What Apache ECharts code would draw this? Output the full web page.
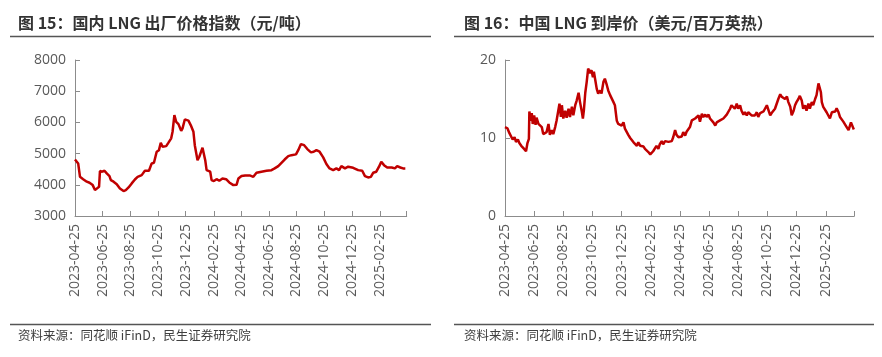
<!DOCTYPE html>
<html>
<head>
<meta charset="utf-8">
<script src="https://cdn.jsdelivr.net/npm/echarts@6/dist/echarts.min.js"></script>
<style>
html,body{margin:0;padding:0;background:#fff;}
#chart{width:882px;height:357px;}
</style>
</head>
<body>
<div id="chart"></div>
<script>
// ---------- data ----------
const leftTitle = '图 15：国内 LNG 出厂价格指数（元/吨）';
const rightTitle = '图 16：中国 LNG 到岸价（美元/百万英热）';
const sourceText = '资料来源：同花顺 iFinD，民生证券研究院';

const tickDates = ['2023-04-25','2023-06-25','2023-08-25','2023-10-25','2023-12-25','2024-02-25','2024-04-25','2024-06-25','2024-08-25','2024-10-25','2024-12-25','2025-02-25','2025-04-25'];

const indexDates = ['2023-04-25','2023-05-02','2023-05-06','2023-05-13','2023-05-21','2023-05-27','2023-05-30','2023-06-03','2023-06-08','2023-06-12','2023-06-17','2023-06-19','2023-06-24','2023-06-29','2023-07-04','2023-07-10','2023-07-13','2023-07-19','2023-07-26','2023-08-02','2023-08-10','2023-08-15','2023-08-21','2023-08-28','2023-09-04','2023-09-10','2023-09-19','2023-09-26','2023-10-05','2023-10-11','2023-10-16','2023-10-22','2023-10-27','2023-10-31','2023-11-04','2023-11-12','2023-11-17','2023-11-23','2023-11-26','2023-11-30','2023-12-04','2023-12-09','2023-12-15','2023-12-18','2023-12-23','2023-12-31','2024-01-05','2024-01-11','2024-01-14','2024-01-20','2024-01-24','2024-01-31','2024-02-06','2024-02-09','2024-02-17','2024-02-20','2024-02-25','2024-03-02','2024-03-08','2024-03-15','2024-03-23','2024-03-30','2024-04-08','2024-04-15','2024-04-19','2024-04-26','2024-05-04','2024-05-14','2024-05-22','2024-05-29','2024-06-09','2024-06-20','2024-07-01','2024-07-08','2024-07-16','2024-07-23','2024-07-30','2024-08-07','2024-08-14','2024-08-24','2024-08-29','2024-09-04','2024-09-11','2024-09-18','2024-09-26','2024-10-02','2024-10-08','2024-10-15','2024-10-23','2024-10-30','2024-11-06','2024-11-14','2024-11-21','2024-11-27','2024-12-02','2024-12-10','2024-12-17','2024-12-28','2025-01-08','2025-01-17','2025-01-23','2025-01-30','2025-02-05','2025-02-10','2025-02-17','2025-02-23','2025-02-28','2025-03-06','2025-03-13','2025-03-23','2025-03-30','2025-04-04','2025-04-11','2025-04-17','2025-04-22'];
const indexValues = [4810,4685,4255,4180,4100,4065,4100,3990,3830,3880,3935,4440,4420,4450,4365,4280,4150,4100,4020,3880,3800,3830,3915,4045,4170,4255,4310,4450,4450,4685,4705,5060,5110,5350,5220,5240,5350,5490,5700,6235,6020,5945,5730,5810,6095,6055,5915,5700,5270,4790,4900,5190,4790,4470,4420,4150,4120,4180,4130,4200,4180,4075,3990,4000,4200,4280,4300,4300,4255,4385,4420,4450,4470,4525,4600,4705,4810,4920,4950,4975,5110,5305,5270,5145,5040,5060,5110,5060,4880,4665,4525,4470,4525,4470,4600,4525,4580,4545,4470,4450,4280,4235,4255,4385,4420,4580,4740,4630,4555,4555,4525,4600,4555,4525,4525];

const cifDates = ['2023-04-25','2023-04-30','2023-05-04','2023-05-08','2023-05-11','2023-05-15','2023-05-18','2023-05-22','2023-05-25','2023-05-29','2023-06-01','2023-06-04','2023-06-08','2023-06-11','2023-06-14','2023-06-15','2023-06-18','2023-06-20','2023-06-22','2023-06-25','2023-06-28','2023-06-30','2023-07-04','2023-07-07','2023-07-11','2023-07-14','2023-07-18','2023-07-21','2023-07-25','2023-07-28','2023-08-01','2023-08-04','2023-08-08','2023-08-11','2023-08-15','2023-08-17','2023-08-20','2023-08-22','2023-08-25','2023-08-29','2023-09-01','2023-09-05','2023-09-08','2023-09-12','2023-09-15','2023-09-19','2023-09-22','2023-09-26','2023-09-29','2023-10-03','2023-10-05','2023-10-07','2023-10-10','2023-10-13','2023-10-16','2023-10-20','2023-10-23','2023-10-26','2023-10-28','2023-10-31','2023-11-03','2023-11-06','2023-11-10','2023-11-13','2023-11-17','2023-11-20','2023-11-24','2023-11-27','2023-12-01','2023-12-04','2023-12-08','2023-12-11','2023-12-15','2023-12-18','2023-12-22','2023-12-25','2023-12-29','2024-01-01','2024-01-05','2024-01-08','2024-01-12','2024-01-15','2024-01-19','2024-01-22','2024-01-26','2024-01-29','2024-02-02','2024-02-05','2024-02-09','2024-02-12','2024-02-16','2024-02-19','2024-02-23','2024-02-26','2024-02-29','2024-03-04','2024-03-07','2024-03-11','2024-03-14','2024-03-18','2024-03-21','2024-03-25','2024-03-28','2024-04-01','2024-04-04','2024-04-08','2024-04-11','2024-04-15','2024-04-18','2024-04-22','2024-04-25','2024-04-29','2024-05-02','2024-05-06','2024-05-09','2024-05-13','2024-05-16','2024-05-20','2024-05-23','2024-05-27','2024-05-30','2024-06-03','2024-06-06','2024-06-10','2024-06-13','2024-06-17','2024-06-20','2024-06-24','2024-06-27','2024-07-01','2024-07-04','2024-07-08','2024-07-11','2024-07-15','2024-07-18','2024-07-22','2024-07-25','2024-07-28','2024-08-01','2024-08-04','2024-08-08','2024-08-11','2024-08-15','2024-08-18','2024-08-22','2024-08-25','2024-08-29','2024-09-01','2024-09-05','2024-09-08','2024-09-12','2024-09-15','2024-09-19','2024-09-22','2024-09-26','2024-09-29','2024-10-03','2024-10-06','2024-10-10','2024-10-13','2024-10-17','2024-10-20','2024-10-24','2024-10-27','2024-10-31','2024-11-03','2024-11-07','2024-11-10','2024-11-14','2024-11-17','2024-11-21','2024-11-24','2024-11-28','2024-12-01','2024-12-05','2024-12-08','2024-12-12','2024-12-15','2024-12-19','2024-12-22','2024-12-25','2024-12-29','2025-01-01','2025-01-05','2025-01-08','2025-01-12','2025-01-15','2025-01-19','2025-01-22','2025-01-26','2025-01-29','2025-02-02','2025-02-05','2025-02-09','2025-02-11','2025-02-14','2025-02-16','2025-02-19','2025-02-23','2025-02-26','2025-03-02','2025-03-05','2025-03-09','2025-03-12','2025-03-16','2025-03-19','2025-03-23','2025-03-26','2025-03-30','2025-04-02','2025-04-06','2025-04-09','2025-04-13','2025-04-16','2025-04-18','2025-04-21','2025-04-24'];
const cifValues = [11.4,11.25,10.65,10.4,9.8,10.1,9.5,9.8,9.35,9.0,9.1,8.6,8.3,9.35,9.9,13.4,12.2,13.2,11.8,12.9,11.7,12.6,11.8,12.0,11.4,10.5,10.4,10.75,11.8,10.4,11.0,10.5,11.4,12.25,12.5,14.4,12.7,14.2,12.5,13.5,12.6,13.75,12.7,14.0,12.9,14.2,14.8,15.8,14.6,13.3,12.5,13.5,15.8,17.2,18.9,18.3,18.7,17.8,18.5,17.4,16.3,15.7,16.1,15.7,17.2,17.6,16.8,16.1,15.5,15.3,14.6,14.2,12.2,11.8,12.0,11.6,12.0,11.2,11.0,10.4,10.0,10.1,9.45,9.35,9.0,9.45,9.0,9.2,8.9,8.6,8.5,8.2,7.9,8.0,8.3,8.2,9.0,8.6,9.2,9.6,9.2,9.6,9.35,9.5,9.45,9.6,10.1,11.0,10.4,10.1,10.1,10.2,10.75,10.3,10.8,10.65,11.4,12.25,12.0,12.5,12.25,12.9,12.1,13.1,12.7,13.0,12.7,13.0,12.5,12.25,12.0,11.6,12.0,11.8,12.25,12.0,12.5,12.7,13.0,12.9,13.75,14.2,14.4,13.75,14.4,13.75,14.2,13.5,13.0,13.3,12.9,13.3,13.5,12.9,13.1,12.9,13.3,12.7,13.2,13.1,13.4,13.5,14.2,14.0,12.9,13.2,13.3,13.75,14.0,15.0,15.6,15.3,15.5,15.0,15.3,14.6,14.0,12.9,13.5,14.2,14.6,15.0,15.4,14.8,13.75,14.2,13.5,14.4,13.75,14.6,14.2,15.0,15.5,17.0,17.2,15.9,14.6,14.0,14.2,13.3,13.5,12.5,13.3,13.1,13.4,13.8,13.3,12.7,12.5,12.1,12.25,11.4,11.0,11.2,12.0,12.1,11.1];

// ---------- helpers ----------
function ts(s){ const p = s.split('-').map(Number); return Date.UTC(p[0], p[1]-1, p[2]); }
function pairs(d, v){ return d.map((x,i)=>[ts(x), v[i]]); }
function fmt(t){ const d = new Date(t); const m = d.getUTCMonth()+1, dd = d.getUTCDate();
  return d.getUTCFullYear() + '-' + (m<10?'0':'') + m + '-' + (dd<10?'0':'') + dd; }

const tickVals = tickDates.map(ts);
const labelVals = tickDates.slice(0, -1).map(ts);

const axisColor = '#8c8c8c';
const labelColor = '#595959';
const numFont = '"Open Sans", "Noto Sans", sans-serif';
const cjkFont = '"Noto Sans CJK SC", sans-serif';

function xAxisFor(gi){
  return {
    type: 'value', gridIndex: gi,
    min: tickVals[0], max: tickVals[tickVals.length-1],
    axisLine: { show: true, lineStyle: { color: axisColor, width: 1 } },
    axisTick: { show: true, inside: true, length: 5, customValues: tickVals, lineStyle: { color: axisColor } },
    axisLabel: { show: true, rotate: 90, margin: 8, customValues: labelVals, color: labelColor,
      fontSize: 14, fontFamily: numFont, formatter: v => fmt(v), hideOverlap: false },
    splitLine: { show: false }
  };
}
function yAxisFor(gi, min, max, interval){
  return {
    type: 'value', gridIndex: gi, min, max, interval,
    axisLine: { show: true, lineStyle: { color: axisColor, width: 1 } },
    axisTick: { show: true, inside: true, length: 5, lineStyle: { color: axisColor } },
    axisLabel: { color: labelColor, fontSize: 14, fontFamily: numFont, margin: 9, formatter: v => String(v) },
    splitLine: { show: false }
  };
}

const chart = echarts.init(document.getElementById('chart'), null, { renderer: 'canvas' });
const lineColor = '#C00000';
const titleStyle = { fill: '#333333', font: 'bold 16px ' + cjkFont };
const srcStyle = { fill: '#404040', font: '12.5px ' + cjkFont };
const ruleStyle = { stroke: '#555555', lineWidth: 1.5 };

chart.setOption({
  animation: false,
  backgroundColor: '#ffffff',
  grid: [
    { left: 75, top: 60, width: 331.7, height: 156 },
    { left: 505, top: 60, width: 349.3, height: 156 }
  ],
  xAxis: [ xAxisFor(0), xAxisFor(1) ],
  yAxis: [ yAxisFor(0, 3000, 8000, 1000), yAxisFor(1, 0, 20, 10) ],
  series: [
    { type: 'line', xAxisIndex: 0, yAxisIndex: 0, data: pairs(indexDates, indexValues),
      showSymbol: false, lineStyle: { color: lineColor, width: 2.5 }, itemStyle: { color: lineColor } },
    { type: 'line', xAxisIndex: 1, yAxisIndex: 1, data: pairs(cifDates, cifValues),
      showSymbol: false, lineStyle: { color: lineColor, width: 2.5 }, itemStyle: { color: lineColor } }
  ],
  graphic: [
    { type: 'text', left: 18, top: 15, style: Object.assign({ text: leftTitle }, titleStyle) },
    { type: 'text', left: 464, top: 15, style: Object.assign({ text: rightTitle }, titleStyle) },
    { type: 'line', shape: { x1: 10, y1: 36.5, x2: 431, y2: 36.5 }, style: ruleStyle },
    { type: 'line', shape: { x1: 454, y1: 36.5, x2: 874, y2: 36.5 }, style: ruleStyle },
    { type: 'line', shape: { x1: 10, y1: 324.5, x2: 431, y2: 324.5 }, style: ruleStyle },
    { type: 'line', shape: { x1: 454, y1: 324.5, x2: 874, y2: 324.5 }, style: ruleStyle },
    { type: 'text', left: 18, top: 329, style: Object.assign({ text: sourceText }, srcStyle) },
    { type: 'text', left: 464, top: 329, style: Object.assign({ text: sourceText }, srcStyle) }
  ]
});
</script>
</body>
</html>
